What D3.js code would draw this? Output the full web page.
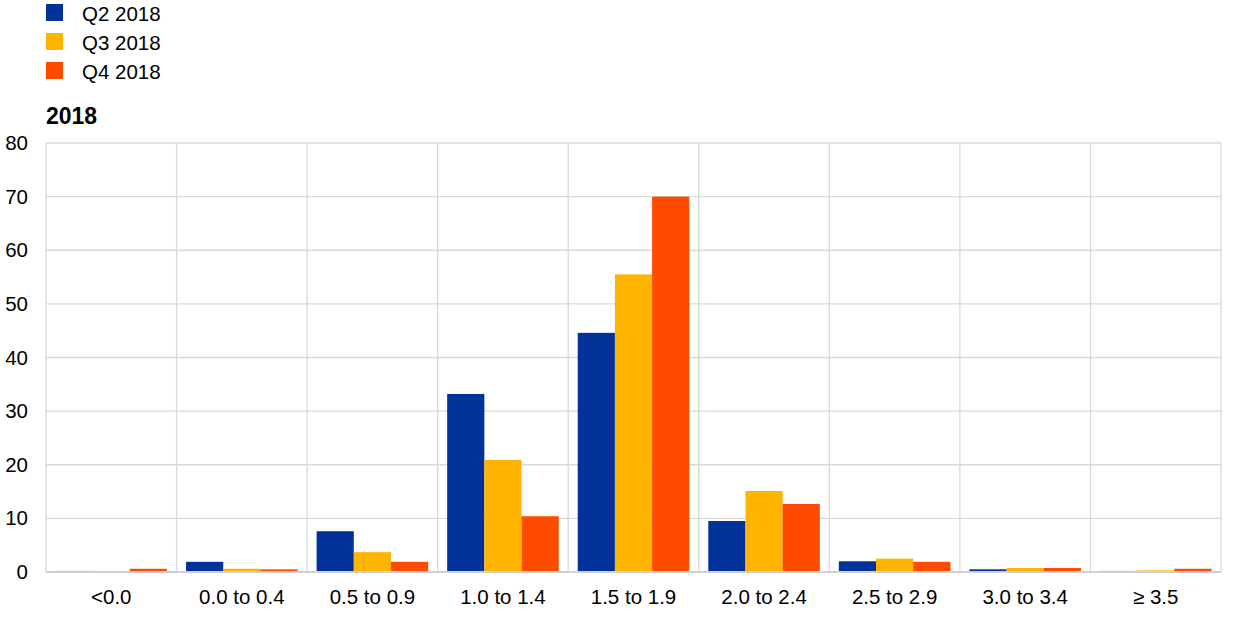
<!DOCTYPE html>
<html><head><meta charset="utf-8">
<script src="https://cdn.jsdelivr.net/npm/d3@7"></script>
<style>
body{margin:0;background:#fff;}
text{font-family:"Liberation Sans",Arial,sans-serif;}
</style></head><body>
<svg id="c" width="1240" height="618"></svg>
<script>
const categories = ["<0.0","0.0 to 0.4","0.5 to 0.9","1.0 to 1.4","1.5 to 1.9","2.0 to 2.4","2.5 to 2.9","3.0 to 3.4","\u2265 3.5"];
const seriesNames = ["Q2 2018","Q3 2018","Q4 2018"];
const q2 = [0.2, 1.9, 7.6, 33.2, 44.6, 9.5, 2.0, 0.5, 0.2];
const q3 = [0.2, 0.6, 3.7, 20.9, 55.5, 15.1, 2.5, 0.75, 0.3];
const q4 = [0.6, 0.5, 1.9, 10.4, 70.0, 12.7, 1.9, 0.75, 0.6];
const yTicks = [0,10,20,30,40,50,60,70,80];
const colors = ["#003299","#ffb400","#ff4b00"];
const seriesValues = [q2,q3,q4];

const svg = d3.select("#c");
const L = 46, R = 1221, T = 143, B = 572;
const FS = 20.5;
const x0 = d3.scaleBand().domain(categories).range([L,R]).padding(0);
const x1 = d3.scaleBand().domain(seriesNames).range([9.5, x0.bandwidth()-9.5]).padding(0);
const y = d3.scaleLinear().domain([0,80]).range([B,T]);

// horizontal grid
svg.append("g").selectAll("line").data(yTicks).join("line")
  .attr("x1",L).attr("x2",R).attr("y1",d=>y(d)).attr("y2",d=>y(d))
  .attr("stroke","#d9d9d9").attr("stroke-width",1.3);
// vertical grid
const bounds = categories.map(c=>x0(c)).concat([R]);
svg.append("g").selectAll("line").data(bounds).join("line")
  .attr("x1",d=>d).attr("x2",d=>d).attr("y1",T).attr("y2",B)
  .attr("stroke","#d9d9d9").attr("stroke-width",1.3);

// bars
seriesValues.forEach((vals,si)=>{
  svg.append("g").selectAll("rect").data(vals).join("rect")
    .attr("x",(d,i)=>x0(categories[i])+x1(seriesNames[si]))
    .attr("width",x1.bandwidth())
    .attr("y",d=>y(d))
    .attr("height",d=>B-y(d))
    .attr("fill",colors[si]);
});

// baseline
svg.append("line").attr("x1",L).attr("x2",R).attr("y1",B).attr("y2",B)
  .attr("stroke","#d0d0d0").attr("stroke-width",2);

// y axis labels
const yAxis = d3.axisLeft(y).tickValues(yTicks).tickSize(0).tickPadding(0);
const ya = svg.append("g").attr("transform",`translate(28,0)`).call(yAxis);
ya.select(".domain").remove();
ya.selectAll("text").attr("font-size",FS).attr("fill","#000").attr("font-family","Liberation Sans, Arial, sans-serif");

// x axis labels
const xAxis = d3.axisBottom(x0).tickSize(0).tickPadding(0);
const xa = svg.append("g").attr("transform",`translate(0,${B})`).call(xAxis);
xa.select(".domain").remove();
xa.selectAll("text").attr("dy",null).attr("y",32).attr("font-size",FS).attr("fill","#000").attr("font-family","Liberation Sans, Arial, sans-serif");

// title
svg.append("text").attr("x",46).attr("y",124).attr("font-size",23).attr("font-weight","bold").text("2018");

// legend
const lg = svg.append("g").selectAll("g").data(seriesNames).join("g")
  .attr("transform",(d,i)=>`translate(46,${4+i*29})`);
lg.append("rect").attr("width",17).attr("height",17).attr("fill",(d,i)=>colors[i]);
lg.append("text").attr("x",36).attr("y",17).attr("font-size",FS).text(d=>d);
</script>
</body></html>
